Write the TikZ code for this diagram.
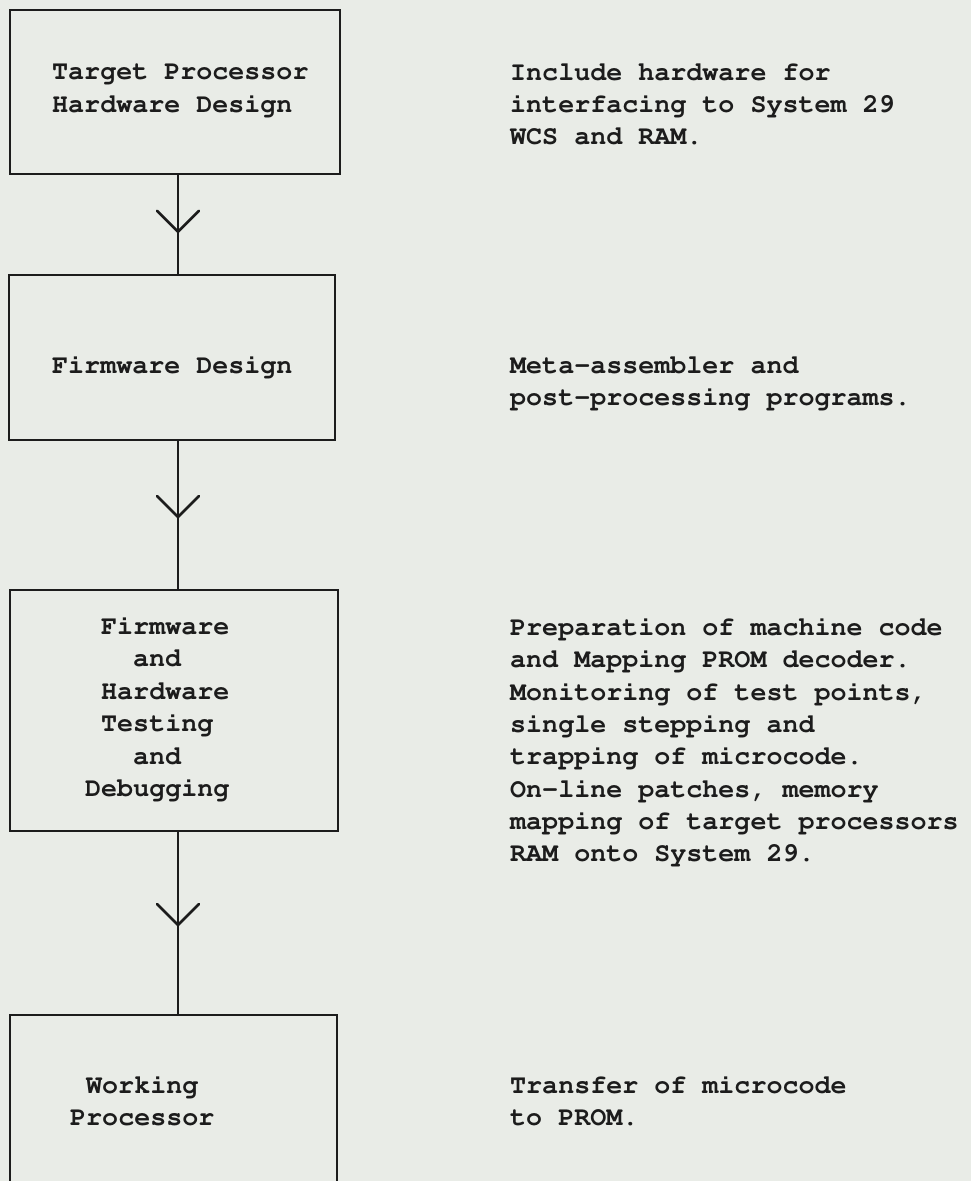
\documentclass[tikz,border=0pt]{standalone}
\usepackage[T1]{fontenc}
\usepackage{courier}
\usetikzlibrary{decorations.markings}
\definecolor{paper}{RGB}{233,236,231}
\definecolor{ink}{RGB}{28,28,28}
\begin{document}
\begin{tikzpicture}[x=1pt,y=-1pt,
  box/.style={draw=ink,line width=2.8pt,rectangle,inner sep=0pt},
  ttext/.style={anchor=base west,inner sep=0pt,text=ink,font=\fontsize{26.7}{32}\selectfont\ttfamily\bfseries},
  conn/.style={draw=ink,line width=2.6pt},
  vmark/.style={postaction={decorate},decoration={markings,mark=at position #1 with {\draw[ink,line width=2.6pt,line cap=round] (-21pt,-21pt) -- (0pt,0pt) -- (-21pt,21pt);}}}
]
\useasboundingbox (0,0) rectangle (971,1181);
\fill[paper] (0,0) rectangle (971,1181);
\clip (0,0) rectangle (971,1181);

% boxes
\node[box,minimum width=330pt,minimum height=164pt] (b1) at (175,92) {};
\node[box,minimum width=326pt,minimum height=165pt] (b2) at (172,357.5) {};
\node[box,minimum width=328pt,minimum height=241pt] (b3) at (174,710.5) {};
\node[box,minimum width=327pt,minimum height=167pt] (b4) at (173.5,1098.5) {};

% connectors
\coordinate (ax) at (178,0);
\draw[conn,vmark=0.574] (b1.south -| ax) -- (b2.north -| ax);
\draw[conn,vmark=0.513] (b2.south -| ax) -- (b3.north -| ax);
\draw[conn,vmark=0.511] (b3.south -| ax) -- (b4.north -| ax);

% box texts
\node[ttext] (t1a) at (52,79.5) {Target Processor};
\node[ttext] (t1b) at (52,112) {Hardware Design};
\node[ttext] (t2a) at (52,373) {Firmware Design};
\node[ttext] (t3a) at (101,634) {Firmware};
\node[ttext] (t3b) at (133,666.5) {and};
\node[ttext] (t3c) at (101,699) {Hardware};
\node[ttext] (t3d) at (101,731.5) {Testing};
\node[ttext] (t3e) at (133,764) {and};
\node[ttext] (t3f) at (85,796.5) {Debugging};
\node[ttext] (t4a) at (86,1093) {Working};
\node[ttext] (t4b) at (70,1125) {Processor};

% right-hand notes
\foreach \t [count=\i from 0] in {Include hardware for, interfacing to System 29, WCS and RAM.}
  \node[ttext] (n1-\i) at (510,80.5+32*\i) {\t};
\foreach \t [count=\i from 0] in {Meta-assembler and, post-processing programs.}
  \node[ttext] (n2-\i) at (510,373+32*\i) {\t};
\foreach \t [count=\i from 0] in {Preparation of machine code, and Mapping PROM decoder., {Monitoring of test points,}, single stepping and, trapping of microcode., {On-line patches, memory}, mapping of target processors, RAM onto System 29.}
  \node[ttext] (n3-\i) at (510,635.5+32.3*\i) {\t};
\foreach \t [count=\i from 0] in {Transfer of microcode, to PROM.}
  \node[ttext] (n4-\i) at (510,1093+32*\i) {\t};
\end{tikzpicture}
\end{document}
